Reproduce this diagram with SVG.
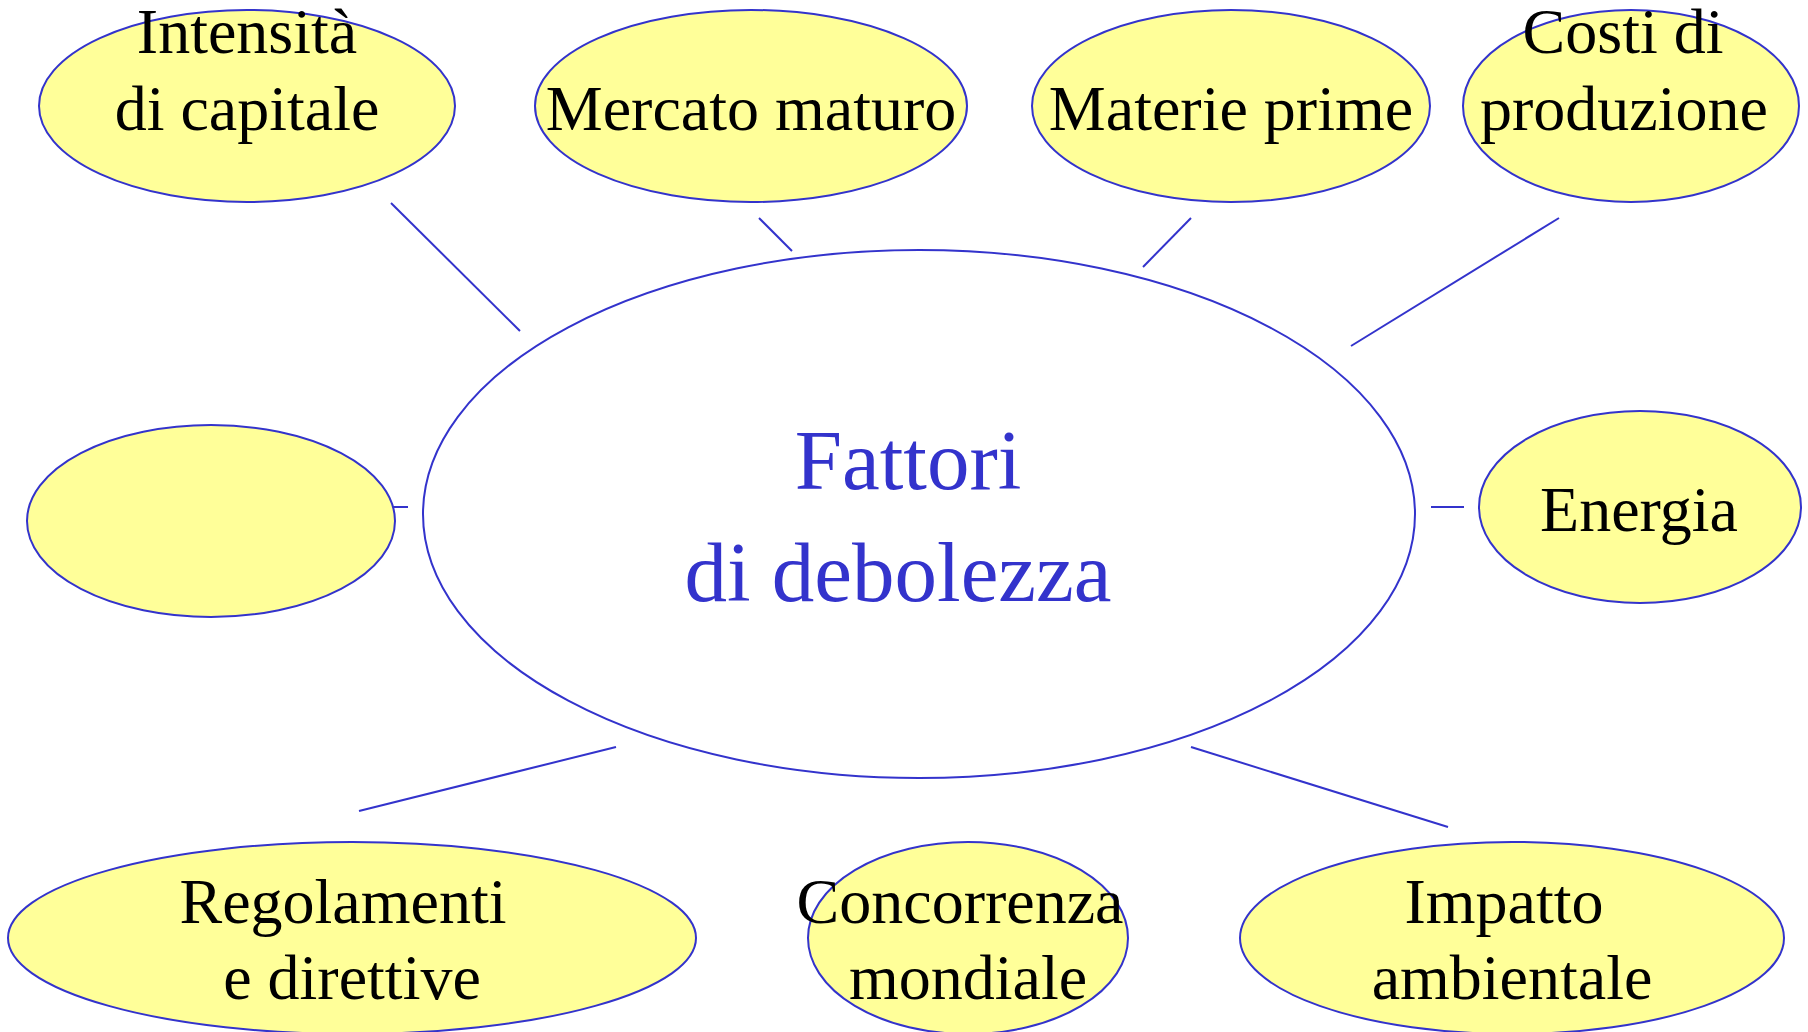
<svg xmlns="http://www.w3.org/2000/svg" width="1808" height="1032" viewBox="0 0 1808 1032">
<style>
.n{fill:#ffff99;stroke:#3333cc;stroke-width:2}
.c{fill:#ffffff;stroke:#3333cc;stroke-width:2}
.t{font-family:"Liberation Serif","Times New Roman",serif;font-size:64px;fill:#000;text-anchor:middle}
.ct{font-family:"Liberation Serif","Times New Roman",serif;font-size:85px;fill:#3333cc;text-anchor:middle}
.l{stroke:#3333cc;stroke-width:2;fill:none}
</style>
<rect width="1808" height="1032" fill="#ffffff"/>
<g id="connectors">
<line class="l" x1="391" y1="203" x2="520" y2="331"/>
<line class="l" x1="759" y1="218" x2="792" y2="251"/>
<line class="l" x1="1191" y1="218" x2="1143" y2="267"/>
<line class="l" x1="1559" y1="218" x2="1351" y2="346"/>
<line class="l" x1="390" y1="507" x2="408" y2="507"/>
<line class="l" x1="1431" y1="507" x2="1464" y2="507"/>
<line class="l" x1="616" y1="747" x2="359" y2="811"/>
<line class="l" x1="1191" y1="747" x2="1448" y2="827"/>
</g>
<g id="center">
<ellipse class="c" cx="919" cy="514" rx="496" ry="264"/>
<text class="ct" x="908" y="489">Fattori</text>
<text class="ct" x="898" y="601">di debolezza</text>
</g>
<g id="intensita">
<ellipse class="n" cx="247" cy="106" rx="208" ry="96"/>
<text class="t" x="247" y="53">Intensità</text>
<text class="t" x="247" y="130">di capitale</text>
</g>
<g id="mercato">
<ellipse class="n" cx="751" cy="106" rx="216" ry="96"/>
<text class="t" x="751" y="130">Mercato maturo</text>
</g>
<g id="materie">
<ellipse class="n" cx="1231" cy="106" rx="199" ry="96"/>
<text class="t" x="1231" y="130">Materie prime</text>
</g>
<g id="costi">
<ellipse class="n" cx="1631" cy="106" rx="168" ry="96"/>
<text class="t" x="1623" y="53">Costi di</text>
<text class="t" x="1624" y="130">produzione</text>
</g>
<g id="vuoto">
<ellipse class="n" cx="211" cy="521" rx="184" ry="96"/>
</g>
<g id="energia">
<ellipse class="n" cx="1640" cy="507" rx="161" ry="96"/>
<text class="t" x="1639" y="531">Energia</text>
</g>
<g id="regolamenti">
<ellipse class="n" cx="352" cy="938" rx="344" ry="96"/>
<text class="t" x="343" y="923">Regolamenti</text>
<text class="t" x="352" y="999">e direttive</text>
</g>
<g id="concorrenza">
<ellipse class="n" cx="968" cy="938" rx="160" ry="96"/>
<text class="t" x="960" y="923">Concorrenza</text>
<text class="t" x="968" y="999">mondiale</text>
</g>
<g id="impatto">
<ellipse class="n" cx="1512" cy="938" rx="272" ry="96"/>
<text class="t" x="1504" y="923">Impatto</text>
<text class="t" x="1512" y="999">ambientale</text>
</g>
</svg>
